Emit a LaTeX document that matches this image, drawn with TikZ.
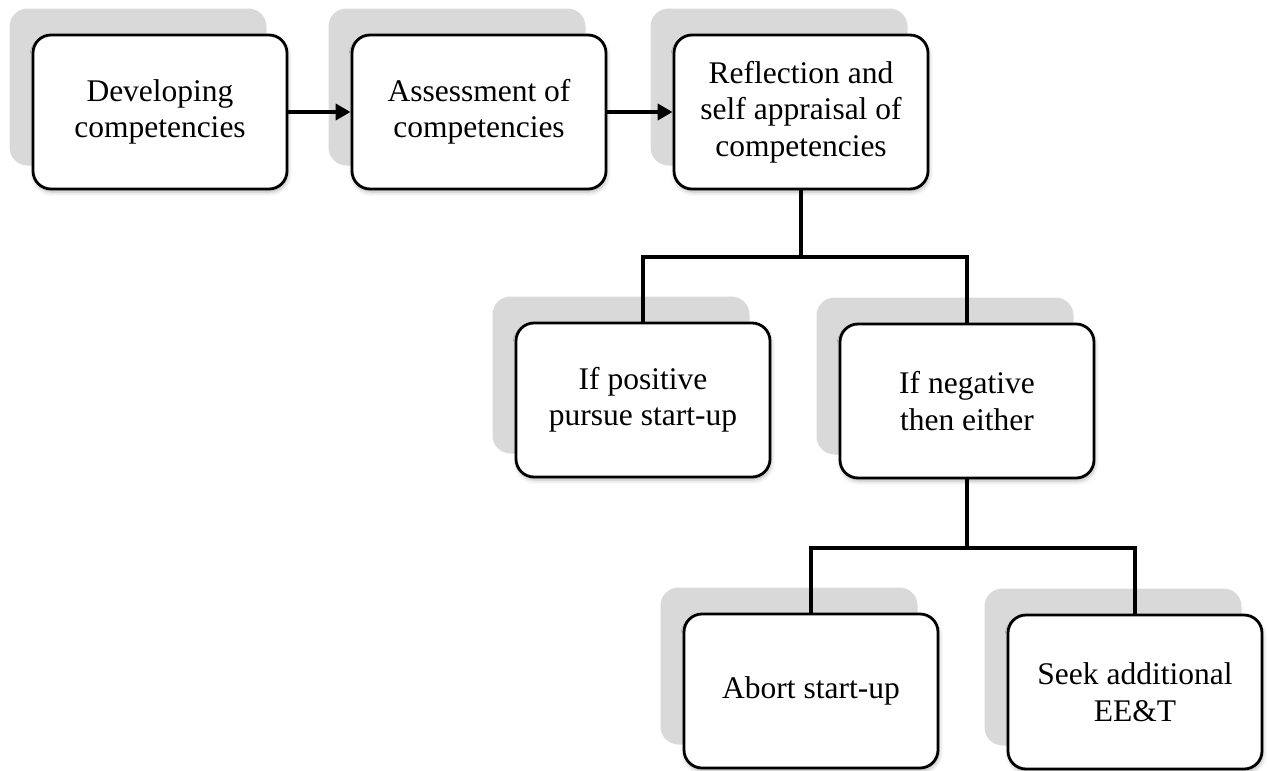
\documentclass[tikz,border=0pt]{standalone}
\usepackage{fontspec}
\setmainfont{Liberation Serif}
\usetikzlibrary{arrows.meta,shadows.blur}
\definecolor{shade}{HTML}{D9D9D9}
\tikzset{
  box/.style={draw=black, line width=2.8pt, fill=white, rounded corners=18pt,
    minimum width=254pt, minimum height=154pt, align=center, inner sep=0pt,
    font=\fontsize{31.5}{36.5}\selectfont,
    blur shadow={shadow xshift=1pt, shadow yshift=-3pt, shadow blur radius=4pt, shadow opacity=30}},
  back/.style={fill=shade, rounded corners=18pt, minimum width=257pt, minimum height=157pt, inner sep=0pt},
  conn/.style={line width=4.5pt, line join=miter, line cap=rect},
  arr/.style={line width=4pt, -{Triangle[length=15pt,width=16pt]}}
}
\begin{document}
\begin{tikzpicture}[x=1pt,y=-1pt]
\useasboundingbox (0,0) rectangle (1269,771);
% shadows
\node[back] (s1) at (138,87) {};
\node[back] (s2) at (457,87) {};
\node[back] (s3) at (779,87) {};
\node[back] (s4) at (621,375) {};
\node[back] (s5) at (945,376) {};
\node[back] (s6) at (789,666) {};
\node[back] (s7) at (1113,667) {};
% boxes
\node[box] (b1) at (160,112) {Developing\\competencies};
\node[box] (b2) at (479,112) {Assessment of\\competencies};
\node[box] (b3) at (801,112) {Reflection and\\self appraisal of\\competencies};
\node[box] (b4) at (643,400) {If positive\\pursue start-up};
\node[box] (b5) at (967,401) {If negative\\then either};
\node[box] (b6) at (811,691) {Abort start-up};
\node[box] (b7) at (1135,692) {Seek additional\\EE\&T};
% arrows
\draw[arr] (b1.east) -- (b2.west);
\draw[arr] (b2.east) -- (b3.west);
% tree connectors
\coordinate (j1) at (801,257);
\coordinate (j2) at (967,548);
\draw[conn] (b3.south) -- (j1);
\draw[conn] (b4.north) |- (j1) -| (b5.north);
\draw[conn] (b5.south) -- (j2);
\draw[conn] (b6.north) |- (j2) -| (b7.north);
\end{tikzpicture}
\end{document}
